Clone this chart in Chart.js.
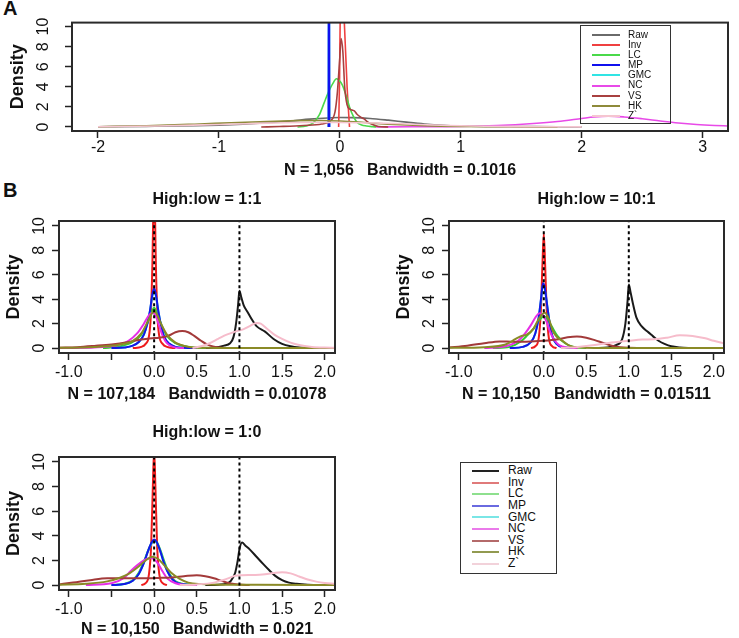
<!DOCTYPE html>
<html><head><meta charset="utf-8"><title>Density plots</title>
<script src="https://cdn.jsdelivr.net/npm/chart.js@4.4.1/dist/chart.umd.min.js"></script>
<style>
html,body{margin:0;padding:0;background:#fff;}
body{width:739px;height:638px;overflow:hidden;position:relative;font-family:"Liberation Sans",Arial,Helvetica,sans-serif;color:#111;}
canvas{display:block;}
.box{position:absolute;}
.plabel{position:absolute;font-weight:bold;font-size:20px;line-height:20px;}
.leg{position:absolute;border:1.5px solid #333;box-sizing:border-box;}
.leg .row{display:flex;align-items:center;white-space:nowrap;}
.leg .ln{display:inline-block;height:2px;}
</style></head><body>
<div class="plabel" style="left:3px;top:-2px">A</div>
<div class="plabel" style="left:3px;top:180px">B</div>
<div class="box" style="left:0;top:0"><canvas id="cA" width="739" height="182"></canvas></div>
<div class="box" style="left:0;top:180px"><canvas id="cB1" width="370" height="225"></canvas></div>
<div class="box" style="left:390px;top:180px"><canvas id="cB2" width="349" height="225"></canvas></div>
<div class="box" style="left:0;top:415px"><canvas id="cB3" width="370" height="225"></canvas></div>
<div class="leg" id="legA" style="left:580px;top:25px;width:91px;height:99px"></div>
<div class="leg" id="legB" style="left:460px;top:462px;width:97px;height:112px"></div>
<script>
// ---------- series names ----------
const SERIES = ['Raw','Inv','LC','MP','GMC','NC','VS','HK','Z`'];

// ---------- Panel A  (N = 1,056) : [x, density] ----------
const A_Raw = [[-2.0,0.02],[-1.6,0.06],[-1.2,0.12],[-1.0,0.18],[-0.8,0.28],[-0.6,0.42],[-0.4,0.6],[-0.25,0.78],[-0.1,0.9],[0,0.94],[0.1,0.93],[0.25,0.85],[0.4,0.68],[0.55,0.48],[0.7,0.3],[0.85,0.17],[1.0,0.1],[1.2,0.06],[1.5,0.04],[1.8,0.02],[2.0,0.01]];
const A_Inv = [[-0.01,0],[-0.002,5],[0.004,12],[0.02,14],[0.035,11],[0.06,4],[0.08,0]];
const A_LC  = [[-0.35,0],[-0.28,0.1],[-0.22,0.4],[-0.17,1.2],[-0.13,2.4],[-0.09,3.6],[-0.05,4.5],[-0.03,4.8],[-0.01,4.7],[0.02,4.2],[0.05,3.2],[0.08,2.0],[0.11,1.1],[0.14,0.5],[0.18,0.2],[0.22,0.1],[0.27,0.03],[0.3,0]];
const A_MP  = [[-0.095,0],[-0.09,40],[-0.085,0]];
const A_GMC = [[-0.095,0],[-0.09,38],[-0.085,0]];
const A_NC  = [[0.3,0],[0.6,0.02],[1.0,0.05],[1.3,0.15],[1.6,0.35],[1.8,0.55],[2.0,0.85],[2.1,1.0],[2.22,1.08],[2.35,1.0],[2.5,0.82],[2.65,0.6],[2.8,0.4],[2.95,0.25],[3.1,0.15],[3.21,0.1]];
const A_VS  = [[-0.65,0],[-0.5,0.05],[-0.3,0.15],[-0.15,0.3],[-0.08,0.6],[-0.04,1.5],[-0.02,3.5],[0.0,7],[0.01,8.8],[0.025,7.5],[0.04,4],[0.06,2.2],[0.08,1.8],[0.1,1.7],[0.12,1.6],[0.14,1.3],[0.17,1.0],[0.2,0.8],[0.23,0.5],[0.27,0.25],[0.32,0.05],[0.4,0]];
const A_HK  = [[-2.0,0.03],[-1.6,0.12],[-1.2,0.28],[-0.9,0.42],[-0.6,0.55],[-0.35,0.63],[-0.15,0.65],[0.0,0.6],[0.15,0.5],[0.3,0.36],[0.5,0.22],[0.7,0.12],[1.0,0.05],[1.4,0.02],[1.8,0.0]];
const A_Z   = [[-2.0,0.02],[-1.5,0.1],[-1.0,0.25],[-0.6,0.38],[-0.3,0.45],[0.0,0.45],[0.3,0.4],[0.6,0.28],[0.9,0.15],[1.2,0.07],[1.6,0.03],[2.0,0.01]];

// ---------- Panel B1  High:low = 1:1 ----------
const B1_Raw = [[0.6,0],[0.72,0.05],[0.82,0.2],[0.89,0.4],[0.93,0.9],[0.96,2.0],[0.985,3.6],[1.0,4.7],[1.02,4.2],[1.05,3.5],[1.1,2.9],[1.15,2.3],[1.2,1.8],[1.3,1.35],[1.4,0.75],[1.5,0.35],[1.6,0.15],[1.7,0.05],[1.85,0]];
const B1_Inv = [[-0.25,0],[-0.15,0.1],[-0.1,0.35],[-0.06,1.0],[-0.04,2.5],[-0.02,7],[-0.008,12],[0,14],[0.008,12],[0.02,7],[0.04,2.5],[0.06,1.0],[0.1,0.35],[0.15,0.1],[0.25,0]];
const B1_LC  = [[-0.6,0],[-0.4,0.15],[-0.25,0.5],[-0.15,1.1],[-0.08,2.0],[-0.03,2.9],[0,3.3],[0.03,2.9],[0.08,2.0],[0.15,1.0],[0.25,0.4],[0.4,0.1],[0.6,0]];
const B1_MP  = [[-0.5,0],[-0.35,0.05],[-0.25,0.2],[-0.18,0.5],[-0.12,1.1],[-0.08,2.0],[-0.05,3.0],[-0.025,4.2],[0,4.9],[0.025,4.2],[0.05,3.0],[0.08,1.9],[0.12,0.9],[0.18,0.35],[0.25,0.1],[0.35,0.02],[0.5,0]];
const B1_GMC = [[-0.5,0],[-0.35,0.05],[-0.25,0.2],[-0.18,0.5],[-0.12,1.1],[-0.08,2.0],[-0.05,3.0],[-0.025,4.1],[0,4.8],[0.025,4.1],[0.05,3.0],[0.08,1.9],[0.12,0.9],[0.18,0.35],[0.25,0.1],[0.35,0.02],[0.5,0]];
const B1_NC  = [[-1.11,0.0],[-0.6,0.1],[-0.4,0.3],[-0.3,0.6],[-0.2,1.2],[-0.12,2.0],[-0.06,2.7],[-0.02,2.9],[0.02,2.6],[0.06,1.8],[0.1,1.0],[0.15,0.4],[0.22,0.1],[0.35,0]];
const B1_VS  = [[-1.11,0.03],[-0.9,0.08],[-0.7,0.18],[-0.5,0.3],[-0.3,0.5],[-0.15,0.7],[0.0,0.82],[0.1,0.88],[0.18,1.05],[0.25,1.3],[0.33,1.4],[0.4,1.3],[0.47,1.0],[0.55,0.6],[0.62,0.3],[0.7,0.12],[0.8,0.03],[0.9,0]];
const B1_HK  = [[-1.11,0.02],[-0.7,0.1],[-0.4,0.3],[-0.25,0.6],[-0.15,1.2],[-0.08,2.1],[-0.03,2.8],[0,3.0],[0.03,2.8],[0.08,2.0],[0.15,1.1],[0.25,0.45],[0.4,0.12],[0.6,0.03],[1.0,0.01],[2.12,0.0]];
const B1_Z   = [[0.45,0],[0.55,0.15],[0.65,0.4],[0.75,0.75],[0.85,1.1],[0.95,1.35],[1.05,1.55],[1.12,1.8],[1.2,2.05],[1.25,2.0],[1.32,1.6],[1.4,1.15],[1.5,0.75],[1.6,0.45],[1.7,0.25],[1.85,0.1],[2.0,0.04],[2.12,0.02]];

// ---------- Panel B2  High:low = 10:1 ----------
const B2_Raw = [[0.6,0],[0.75,0.05],[0.85,0.25],[0.92,0.7],[0.96,2.0],[0.985,3.8],[1.0,5.2],[1.02,4.6],[1.05,3.6],[1.09,2.5],[1.15,1.8],[1.22,1.35],[1.28,1.0],[1.35,0.6],[1.42,0.35],[1.5,0.15],[1.6,0.05],[1.75,0]];
const B2_Inv = [[-0.15,0],[-0.1,0.15],[-0.06,0.8],[-0.035,3.0],[-0.015,7.0],[0,9.35],[0.015,7.0],[0.035,3.0],[0.06,0.8],[0.1,0.15],[0.15,0]];
const B2_LC  = [[-0.6,0],[-0.4,0.1],[-0.28,0.5],[-0.2,1.0],[-0.12,1.6],[-0.05,2.3],[0.0,2.6],[0.05,2.3],[0.1,1.7],[0.16,1.0],[0.25,0.4],[0.35,0.1],[0.5,0]];
const B2_MP  = [[-0.4,0],[-0.25,0.1],[-0.15,0.5],[-0.1,1.2],[-0.06,2.5],[-0.03,4.2],[-0.01,5.3],[0.01,5.0],[0.04,3.5],[0.07,2.0],[0.1,1.0],[0.15,0.35],[0.22,0.08],[0.35,0]];
const B2_GMC = [[-0.4,0],[-0.25,0.1],[-0.15,0.5],[-0.1,1.2],[-0.06,2.5],[-0.03,4.1],[-0.01,5.2],[0.01,4.9],[0.04,3.5],[0.07,2.0],[0.1,1.0],[0.15,0.35],[0.22,0.08],[0.35,0]];
const B2_NC  = [[-0.7,0],[-0.45,0.15],[-0.3,0.6],[-0.22,1.2],[-0.15,1.9],[-0.09,2.6],[-0.05,2.85],[-0.01,2.7],[0.03,2.2],[0.07,1.4],[0.12,0.7],[0.18,0.25],[0.28,0.05],[0.4,0]];
const B2_VS  = [[-1.12,0.05],[-0.9,0.2],[-0.7,0.4],[-0.52,0.55],[-0.35,0.52],[-0.15,0.55],[0.0,0.6],[0.15,0.7],[0.28,0.88],[0.39,0.95],[0.5,0.85],[0.6,0.65],[0.7,0.42],[0.8,0.2],[0.9,0.07],[1.0,0.02],[1.15,0]];
const B2_HK  = [[-1.12,0.02],[-0.7,0.08],[-0.45,0.3],[-0.33,0.75],[-0.26,1.0],[-0.2,1.1],[-0.12,1.6],[-0.05,2.5],[0.01,2.9],[0.06,2.4],[0.1,1.5],[0.15,0.95],[0.22,0.6],[0.3,0.2],[0.4,0.06],[0.6,0.01],[2.12,0]];
const B2_Z   = [[0.2,0],[0.4,0.1],[0.6,0.25],[0.8,0.45],[1.0,0.6],[1.16,0.7],[1.3,0.72],[1.45,0.85],[1.6,1.05],[1.75,1.0],[1.9,0.8],[2.0,0.6],[2.12,0.4]];

// ---------- Panel B3  High:low = 1:0 ----------
const B3_Raw = [[0.6,0],[0.75,0.03],[0.85,0.12],[0.9,0.35],[0.95,1.0],[0.98,2.0],[1.0,2.9],[1.03,3.45],[1.07,3.2],[1.12,2.9],[1.2,2.3],[1.28,1.7],[1.35,1.2],[1.42,0.75],[1.5,0.4],[1.58,0.2],[1.67,0.1],[1.8,0.02],[1.9,0]];
const B3_Inv = [[-0.15,0],[-0.1,0.15],[-0.06,0.9],[-0.035,3.2],[-0.015,8],[0,11],[0.015,8],[0.035,3.2],[0.06,0.9],[0.1,0.15],[0.15,0]];
const B3_LC  = [[-0.5,0],[-0.35,0.1],[-0.25,0.4],[-0.18,1.0],[-0.12,1.9],[-0.07,2.8],[-0.03,3.4],[0.0,3.6],[0.03,3.5],[0.07,2.9],[0.12,1.9],[0.18,0.9],[0.25,0.3],[0.35,0.08],[0.5,0]];
const B3_MP  = [[-0.5,0],[-0.35,0.08],[-0.25,0.35],[-0.18,0.9],[-0.12,1.8],[-0.07,2.8],[-0.03,3.45],[0,3.7],[0.03,3.5],[0.07,2.8],[0.12,1.7],[0.18,0.8],[0.25,0.25],[0.35,0.05],[0.5,0]];
const B3_GMC = [[-0.5,0],[-0.35,0.08],[-0.25,0.35],[-0.18,0.9],[-0.12,1.8],[-0.07,2.8],[-0.03,3.4],[0,3.65],[0.03,3.45],[0.07,2.8],[0.12,1.7],[0.18,0.8],[0.25,0.25],[0.35,0.05],[0.5,0]];
const B3_NC  = [[-0.8,0],[-0.5,0.15],[-0.35,0.6],[-0.28,1.1],[-0.2,1.6],[-0.12,2.0],[-0.05,2.2],[0.0,2.1],[0.05,1.7],[0.1,1.1],[0.16,0.5],[0.25,0.15],[0.35,0.03],[0.5,0]];
const B3_VS  = [[-1.12,0.05],[-0.95,0.2],[-0.75,0.4],[-0.55,0.55],[-0.35,0.55],[-0.15,0.55],[0.05,0.58],[0.2,0.62],[0.35,0.72],[0.5,0.8],[0.6,0.72],[0.7,0.55],[0.8,0.32],[0.9,0.12],[1.0,0.04],[1.12,0]];
const B3_HK  = [[-1.12,0.02],[-0.8,0.1],[-0.55,0.3],[-0.4,0.6],[-0.3,0.9],[-0.2,1.4],[-0.1,2.0],[-0.02,2.3],[0.05,2.1],[0.12,1.6],[0.2,1.0],[0.3,0.5],[0.4,0.2],[0.55,0.08],[0.8,0.03],[1.2,0.03],[2.12,0.0]];
const B3_Z   = [[0.3,0],[0.5,0.05],[0.7,0.2],[0.85,0.5],[0.95,0.75],[1.03,0.8],[1.15,0.82],[1.27,0.85],[1.4,0.98],[1.5,1.05],[1.6,0.95],[1.7,0.7],[1.8,0.45],[1.9,0.28],[2.0,0.17],[2.12,0.1]];

// ---------- axes / labels ----------
const A_xTicks  = [-2,-1,0,1,2,3];
const A_xLabels = ['-2','-1','0','1','2','3'];
const B_xTicks  = [-1,-0.5,0,0.5,1,1.5,2];
const B_xLabels = ['-1.0','','0.0','0.5','1.0','1.5','2.0'];
const Y_ticks   = [0,2,4,6,8,10];
const Y_labels  = ['0','2','4','6','8','10'];
const B_refX    = [0,1];
const B_titles  = ['High:low = 1:1','High:low = 10:1','High:low = 1:0'];
const X_titles  = ['N = 1,056   Bandwidth = 0.1016','N = 107,184   Bandwidth = 0.01078','N = 10,150   Bandwidth = 0.01511','N = 10,150   Bandwidth = 0.021'];
const Y_title   = 'Density';

// ---------- styles ----------
const FONT = '"Liberation Sans", Arial, Helvetica, sans-serif';
const COL_B = ['#1a1a1a','#ee1c1c','#33cc33','#1515e6','#12e0e0','#e62ee6','#a33a3a','#8a8a26','#f6bccb'];
const COL_A = ['#6a6a6a','#ef4040','#4ad94a','#1010ee','#30e4e4','#e84ae8','#a84040','#8e8a3a','#f5c5d0'];
const COL_LEG = ['#222222','#e07a7a','#8ee08e','#6a6ae0','#7ae6e6','#ea7aea','#b46a6a','#929a50','#f2d2da'];
const DRAW_ORDER = [9,8,7,5.5,6,4,3,2,1];   // higher drawn first (R draws Raw first, Z` last)

const frame = {id:'frame', afterDatasetsDraw(chart){
  const {ctx, chartArea:a} = chart; ctx.save(); ctx.strokeStyle='#2a2a2a'; ctx.lineWidth=2;
  ctx.strokeRect(a.left, a.top, a.right-a.left, a.bottom-a.top); ctx.restore(); }};

// main title drawn above the plot region (R "main"), slightly right of centre as in the source figure
const mainTitle = {id:'mainTitle', afterDraw(chart, args, o){
  if(!o || !o.text) return;
  const {ctx, chartArea:a} = chart; ctx.save();
  ctx.font = 'bold 16px ' + FONT; ctx.fillStyle = '#111'; ctx.textAlign='center'; ctx.textBaseline='middle';
  ctx.fillText(o.text, (a.left+a.right)/2 + o.dx, a.top - o.gap); ctx.restore(); }};

function makePanel(id, p){
  const datasets = p.series.map((pts,i)=>({
    label: SERIES[i], data: pts.map(q=>({x:q[0], y:q[1]})),
    borderColor: p.colors[i], borderWidth: p.lw, showLine:true, pointRadius:0,
    fill:false, cubicInterpolationMode:'monotone', order: DRAW_ORDER[i]
  }));
  (p.ref||[]).forEach(x=>datasets.push({label:'ref', data:[{x:x,y:-1},{x:x,y:12}],
    borderColor:'#000', borderWidth:2, borderDash:[3,3], showLine:true, pointRadius:0, order:0}));
  return new Chart(document.getElementById(id), {
    type:'scatter',
    data:{datasets},
    plugins:[frame, mainTitle],
    options:{
      responsive:false, animation:false, devicePixelRatio:1,
      layout:{padding:{left:0,right:p.padR,top:p.padT,bottom:0}, autoPadding:false},
      plugins:{
        legend:{display:false}, tooltip:{enabled:false}, title:{display:false},
        mainTitle: p.title ? {text:p.title, dx:p.tdx, gap:p.tgap} : {text:''}
      },
      scales:{
        x:{type:'linear', position:'bottom', min:p.xmin, max:p.xmax,
          afterBuildTicks:s=>{s.ticks = p.xt.map(v=>({value:v}));},
          afterFit:s=>{s.height = p.xh;},
          ticks:{autoSkip:false, maxRotation:0, minRotation:0, padding:p.xtp, color:'#111',
            font:{family:FONT,size:16}, callback:(v,i)=>p.xl[i]},
          grid:{display:true, drawOnChartArea:false, drawTicks:true, tickLength:7, tickWidth:1.5, color:'#222', tickColor:'#222'},
          border:{display:false},
          title:{display:true, text:p.xtitle, color:'#111', font:{family:FONT,size:16,weight:'bold'}, padding:{top:0,bottom:p.xtb}}
        },
        y:{type:'linear', position:'left', min:-0.4, max:10.4,
          afterBuildTicks:s=>{s.ticks = Y_ticks.map(v=>({value:v}));},
          afterFit:s=>{s.width = p.yw;},
          ticks:{autoSkip:false, minRotation:90, maxRotation:90, crossAlign:'center', padding:p.ytp, color:'#111',
            font:{family:FONT,size:16}, callback:(v,i)=>Y_labels[i]},
          grid:{display:true, drawOnChartArea:false, drawTicks:true, tickLength:7, tickWidth:1.5, color:'#222', tickColor:'#222'},
          border:{display:false},
          title:{display:true, text:Y_title, color:'#111', font:{family:FONT,size:18,weight:'bold'}, padding:{top:p.ytt,bottom:0}}
        }
      }
    }
  });
}

makePanel('cA', {series:[A_Raw,A_Inv,A_LC,A_MP,A_GMC,A_NC,A_VS,A_HK,A_Z], colors:COL_A, lw:1.6,
  xmin:-2.215, xmax:3.21, xt:A_xTicks, xl:A_xLabels, xtitle:X_titles[0],
  padR:11, padT:20, xh:51, xtb:1.4, xtp:0, yw:72, ytp:13, ytt:7.2});
makePanel('cB1', {series:[B1_Raw,B1_Inv,B1_LC,B1_MP,B1_GMC,B1_NC,B1_VS,B1_HK,B1_Z], colors:COL_B, lw:2, ref:B_refX,
  xmin:-1.115, xmax:2.12, xt:B_xTicks, xl:B_xLabels, xtitle:X_titles[1], title:B_titles[0], tdx:10, tgap:21,
  padR:35, padT:41, xh:52, xtb:0.4, xtp:3, yw:59, ytp:3.1, ytt:3.2});
makePanel('cB2', {series:[B2_Raw,B2_Inv,B2_LC,B2_MP,B2_GMC,B2_NC,B2_VS,B2_HK,B2_Z], colors:COL_B, lw:2, ref:B_refX,
  xmin:-1.115, xmax:2.12, xt:B_xTicks, xl:B_xLabels, xtitle:X_titles[2], title:B_titles[1], tdx:10, tgap:21,
  padR:15, padT:41, xh:52, xtb:0.4, xtp:3, yw:59, ytp:3.1, ytt:3.2});
makePanel('cB3', {series:[B3_Raw,B3_Inv,B3_LC,B3_MP,B3_GMC,B3_NC,B3_VS,B3_HK,B3_Z], colors:COL_B, lw:2, ref:B_refX,
  xmin:-1.115, xmax:2.12, xt:B_xTicks, xl:B_xLabels, xtitle:X_titles[3], title:B_titles[2], tdx:10, tgap:24,
  padR:35, padT:42, xh:50, xtb:0.4, xtp:3, yw:59, ytp:3.1, ytt:3.2});

// ---------- legends ----------
function buildLegend(id, cfg){
  const el = document.getElementById(id);
  el.style.paddingTop = cfg.padTop + 'px';
  SERIES.forEach((name,i)=>{
    const row = document.createElement('div'); row.className='row';
    row.style.height = cfg.rowH + 'px'; row.style.fontSize = cfg.fs + 'px'; row.style.lineHeight = cfg.rowH + 'px';
    const ln = document.createElement('span'); ln.className='ln';
    ln.style.marginLeft = cfg.lnL + 'px'; ln.style.width = cfg.lnW + 'px'; ln.style.background = cfg.colors[i];
    const tx = document.createElement('span'); tx.textContent = name; tx.style.marginLeft = cfg.gap + 'px';
    row.appendChild(ln); row.appendChild(tx); el.appendChild(row);
  });
}
buildLegend('legA', {padTop:4, rowH:10.1, fs:10, lnL:11, lnW:28, gap:8, colors:COL_A});
buildLegend('legB', {padTop:2.2, rowH:11.6, fs:12, lnL:11, lnW:27, gap:9, colors:COL_LEG});
</script>
</body></html>
